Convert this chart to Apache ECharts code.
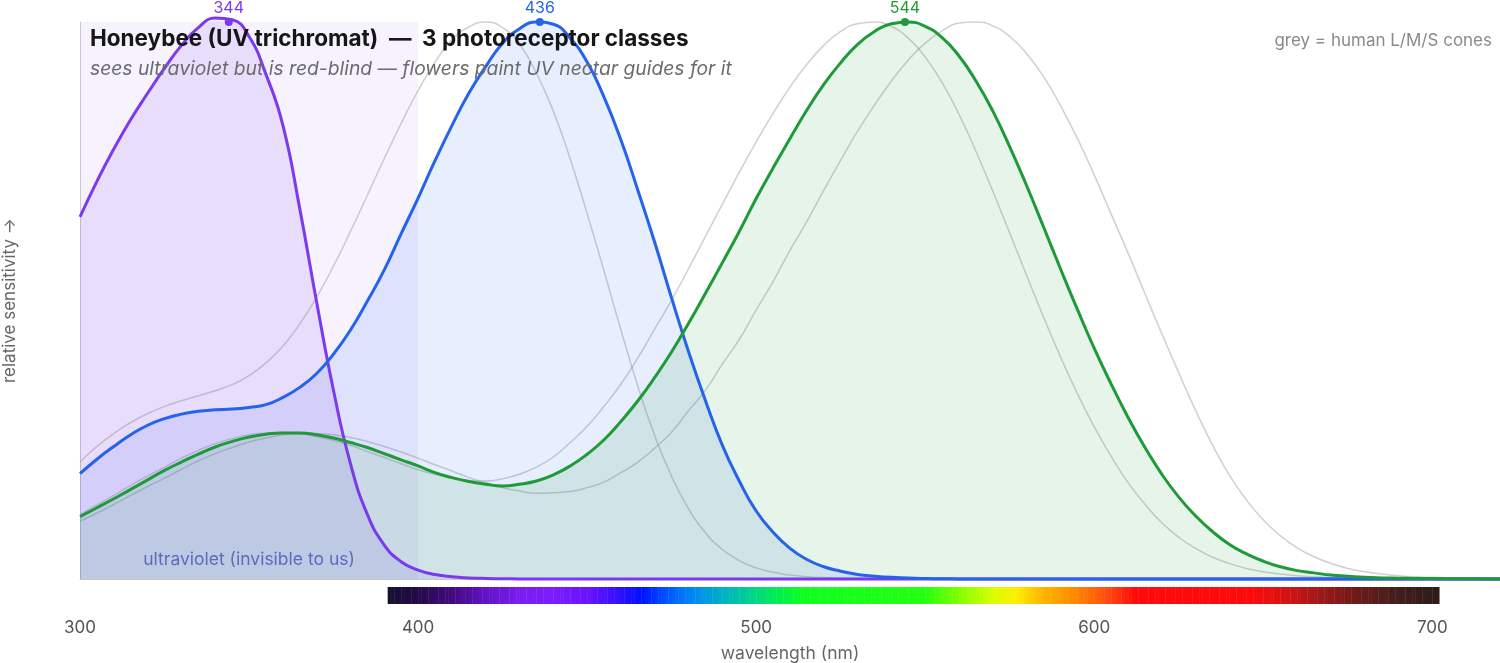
<!DOCTYPE html>
<html>
<head>
<meta charset="utf-8">
<script src="https://cdn.jsdelivr.net/npm/echarts@6/dist/echarts.min.js"></script>
<style>
html,body{margin:0;padding:0;background:#fff;}
#chart{width:1500px;height:663px;}
</style>
</head>
<body>
<div id="chart"></div>
<script>
// ---- data, wavelengths 300..720 nm every 5 nm ----
const wavelengths = [300,305,310,315,320,325,330,335,340,345,350,355,360,365,370,375,380,385,390,395,400,405,410,415,420,425,430,435,440,445,450,455,460,465,470,475,480,485,490,495,500,505,510,515,520,525,530,535,540,545,550,555,560,565,570,575,580,585,590,595,600,605,610,615,620,625,630,635,640,645,650,655,660,665,670,675,680,685,690,695,700,705,710,715,720];

const beeUV = [0.650,0.714,0.772,0.825,0.872,0.917,0.958,0.990,1.007,1.004,0.974,0.906,0.815,0.665,0.497,0.338,0.207,0.116,0.061,0.031,0.016,0.008,0.004,0.002,0.001,0.0005,
  0,0,0,0,0,0,0,0,0,0,0,0,0,0,0,0,0,0,0,0,0,0,0,0,0,0,0,0,0,0,0,0,0,0,0,0,0,0,0,0,0,0,0,0,0,0,0,0,0,0,0,0,0,0,0,0,0,0,0];
const beeBlue = [0.189,0.215,0.238,0.259,0.276,0.288,0.296,0.301,0.304,0.305,0.308,0.313,0.326,0.344,0.369,0.404,0.447,0.499,0.555,0.620,0.684,0.751,0.814,0.872,0.920,0.962,0.988,1.000,0.996,0.971,0.928,0.865,0.788,0.698,0.604,0.504,0.408,0.320,0.240,0.176,0.122,0.084,0.055,0.035,0.022,0.014,0.008,0.005,0.003,0.002,0.001,0.0005,
  0,0,0,0,0,0,0,0,0,0,0,0,0,0,0,0,0,0,0,0,0,0,0,0,0,0,0,0,0,0,0,0,0];
const beeGreen = [0.112,0.128,0.144,0.161,0.178,0.195,0.210,0.224,0.237,0.247,0.255,0.260,0.262,0.262,0.259,0.253,0.245,0.236,0.225,0.214,0.203,0.191,0.182,0.175,0.170,0.167,0.170,0.176,0.187,0.203,0.224,0.250,0.283,0.320,0.362,0.408,0.459,0.513,0.568,0.624,0.683,0.738,0.791,0.842,0.888,0.927,0.960,0.983,0.997,1.000,0.992,0.972,0.939,0.894,0.840,0.776,0.706,0.632,0.557,0.484,0.414,0.350,0.290,0.236,0.188,0.147,0.113,0.085,0.062,0.045,0.032,0.022,0.015,0.011,0.007,0.005,0.003,0.002,0.0015,0.001,0.0007,0.0005,0.0003,0.0002,0.0001];

const humanS = [0.210,0.238,0.261,0.281,0.297,0.310,0.320,0.329,0.338,0.349,0.365,0.388,0.418,0.458,0.506,0.562,0.624,0.689,0.755,0.818,0.877,0.928,0.968,0.991,1.000,0.990,0.960,0.908,0.840,0.754,0.656,0.553,0.447,0.346,0.257,0.184,0.126,0.083,0.053,0.033,0.020,0.012,0.007,0.004,0.0025,0.0015,0.001,0.0005,
  0,0,0,0,0,0,0,0,0,0,0,0,0,0,0,0,0,0,0,0,0,0,0,0,0,0,0,0,0,0,0,0,0,0,0,0,0];
const humanM = [0.116,0.133,0.150,0.168,0.185,0.201,0.217,0.231,0.243,0.252,0.259,0.262,0.263,0.261,0.256,0.249,0.240,0.229,0.218,0.207,0.196,0.188,0.181,0.177,0.176,0.180,0.188,0.201,0.219,0.245,0.274,0.310,0.350,0.397,0.449,0.501,0.557,0.615,0.673,0.730,0.785,0.836,0.883,0.924,0.958,0.983,0.997,1.000,0.992,0.971,0.937,0.891,0.834,0.768,0.696,0.621,0.545,0.470,0.399,0.333,0.273,0.220,0.173,0.134,0.101,0.075,0.055,0.039,0.028,0.019,0.013,0.009,0.006,0.004,0.003,0.002,0.001,0.0005,
  0,0,0,0,0,0,0];
const humanL = [0.104,0.118,0.134,0.150,0.166,0.181,0.197,0.212,0.225,0.236,0.246,0.253,0.259,0.261,0.261,0.259,0.254,0.247,0.238,0.228,0.217,0.205,0.194,0.182,0.173,0.164,0.158,0.154,0.155,0.157,0.164,0.174,0.191,0.210,0.235,0.264,0.302,0.339,0.386,0.430,0.483,0.534,0.590,0.642,0.698,0.752,0.804,0.851,0.894,0.932,0.962,0.984,0.998,1.000,0.993,0.974,0.943,0.902,0.850,0.791,0.725,0.655,0.585,0.512,0.440,0.370,0.302,0.240,0.186,0.142,0.106,0.078,0.056,0.040,0.028,0.019,0.013,0.009,0.006,0.004,0.003,0.002,0.001,0.0007,0.0005];

const peakWavelengths = [344, 436, 544];
const beeNames = ['UV', 'blue', 'green'];
const xTicks = [300, 400, 500, 600, 700];
const uvBand = [300, 400];
const spectrumRange = [391, 701];

// ---- styling ----
const beeColors = ['#7c3aed', '#2563eb', '#1f9a38'];
const FONT = 'Inter, "Noto Sans", "DejaVu Sans", sans-serif';

// visible-spectrum colour stops (decoration only)
const specStops = [
  [390,'#14102a'],[400,'#240a4a'],[410,'#420a80'],[420,'#6212c4'],[430,'#7a1cf0'],
  [440,'#7c1cff'],[450,'#6a12ff'],[458,'#3a10ff'],[466,'#0010ff'],[474,'#0058ff'],
  [482,'#008cf0'],[490,'#00b0c4'],[498,'#00d090'],[506,'#00ee50'],[514,'#10ff20'],
  [550,'#24ff10'],[560,'#80ff00'],[570,'#d8ff00'],[577,'#ffee00'],[584,'#ffb800'],
  [594,'#ff8a00'],[604,'#ff4a10'],[612,'#ff0a0a'],[645,'#ff0a0a'],[655,'#dd1212'],
  [665,'#a81818'],[678,'#6a1a1a'],[690,'#421e1e'],[703,'#2a1c18']
];
function hex2rgb(h){return [parseInt(h.substr(1,2),16),parseInt(h.substr(3,2),16),parseInt(h.substr(5,2),16)];}
function specColor(wl){
  for(let i=0;i<specStops.length-1;i++){
    const a=specStops[i], b=specStops[i+1];
    if(wl>=a[0] && wl<=b[0]){
      const t=(wl-a[0])/(b[0]-a[0]); const ca=hex2rgb(a[1]), cb=hex2rgb(b[1]);
      return 'rgb('+ca.map((v,k)=>Math.round(v+(cb[k]-v)*t)).join(',')+')';
    }
  }
  return wl<specStops[0][0]?specStops[0][1]:specStops[specStops.length-1][1];
}
const spectrumData = [];
for(let w=spectrumRange[0]; w<=spectrumRange[1]; w++) spectrumData.push([w]);

function pairs(vals){ return wavelengths.map((w,i)=>[w, vals[i]]); }

function humanSeries(name, vals){
  return {
    name, type:'line', data: pairs(vals), smooth:true, showSymbol:false, silent:true,
    clip:false, z:1,
    lineStyle:{color:'rgba(150,150,150,0.45)', width:1.5}
  };
}
function beeSeries(idx, vals, extra){
  const c = beeColors[idx];
  return Object.assign({
    name: beeNames[idx], type:'line', data: pairs(vals), smooth:true, showSymbol:false,
    clip:false, z:3,
    lineStyle:{color:c, width:3},
    itemStyle:{color:c},
    areaStyle:{color:c, opacity:0.11},
    markPoint:{
      symbol:'circle', symbolSize:8, silent:true,
      itemStyle:{color:c},
      label:{show:true, position:'top', distance:2, color:c, fontSize:16, fontFamily:FONT, formatter:'{c}'},
      data:[{coord:[peakWavelengths[idx], 1], value: peakWavelengths[idx]}]
    }
  }, extra||{});
}

const chart = echarts.init(document.getElementById('chart'), null, {renderer:'canvas'});
chart.setOption({
  animation:false,
  backgroundColor:'#fff',
  textStyle:{fontFamily:FONT},
  title:[
    {text:'Honeybee (UV trichromat)  \u2014  3 photoreceptor classes',
     subtext:'sees ultraviolet but is red-blind \u2014 flowers paint UV nectar guides for it',
     left:90, top:28, padding:0, itemGap:9,
     textStyle:{fontSize:22.5, fontWeight:'bold', color:'#161616', fontFamily:FONT},
     subtextStyle:{fontSize:19.3, fontStyle:'italic', color:'#6b6b6b', fontFamily:FONT}},
    {text:'grey = human L/M/S cones', right:8, top:32, padding:0,
     textStyle:{fontSize:17, fontWeight:'normal', color:'#8a8a8a', fontFamily:FONT}}
  ],
  grid:{left:80, right:0, top:22, bottom:84, containLabel:false, outerBoundsMode:'none'},
  xAxis:{
    type:'value', min:300, max:720, interval:100,
    name:'wavelength (nm)', nameLocation:'middle', nameGap:66,
    nameTextStyle:{fontSize:17.5, color:'#666', fontFamily:FONT},
    axisLine:{show:true, lineStyle:{color:'#c8c8c8', width:1}},
    axisTick:{show:false},
    splitLine:{show:false},
    axisLabel:{margin:40, fontSize:17, color:'#555', fontFamily:FONT,
      formatter:v=> xTicks.indexOf(v)>=0 ? String(v) : ''}
  },
  yAxis:{
    type:'value', min:0, max:1,
    name:'relative sensitivity \u2192', nameLocation:'middle', nameGap:62,
    nameTextStyle:{fontSize:17, color:'#666', fontFamily:FONT},
    axisLine:{show:true, lineStyle:{color:'#d0d0d0', width:1}},
    axisTick:{show:false}, axisLabel:{show:false}, splitLine:{show:false}
  },
  series:[
    humanSeries('human S', humanS),
    humanSeries('human M', humanM),
    humanSeries('human L', humanL),
    beeSeries(0, beeUV, {
      markArea:{
        silent:true,
        itemStyle:{color:'rgba(124,58,237,0.065)'},
        label:{show:true, position:'insideBottom', distance:10, color:'#6c6cc8', fontSize:17.5, fontFamily:FONT},
        data:[[{xAxis:uvBand[0], name:'ultraviolet (invisible to us)'},{xAxis:uvBand[1]}]]
      }
    }),
    beeSeries(1, beeBlue),
    beeSeries(2, beeGreen),
    {
      type:'custom', name:'spectrum', data:spectrumData, silent:true, z:0,
      renderItem:function(params, api){
        const w = api.value(0);
        const p0 = api.coord([w, 0]);
        const p1 = api.coord([w+1, 0]);
        return {type:'rect', shape:{x:p0[0], y:p0[1]+8, width:p1[0]-p0[0]+0.4, height:17},
                style:{fill:specColor(w+0.5)}};
      }
    }
  ]
});
</script>
</body>
</html>
